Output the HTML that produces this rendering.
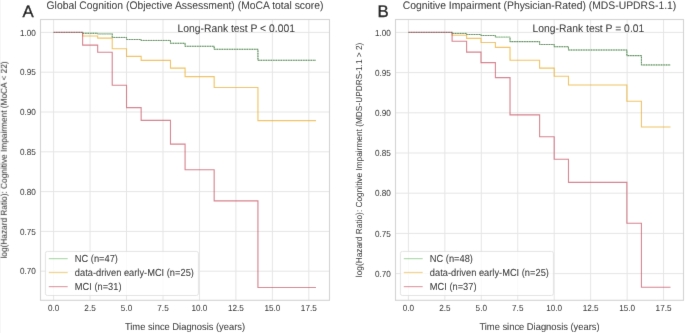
<!DOCTYPE html>
<html><head><meta charset="utf-8"><style>
html,body{margin:0;padding:0;background:#fff;}
body{width:685px;height:333px;overflow:hidden;}
svg{display:block;font-family:"Liberation Sans", sans-serif;text-rendering:geometricPrecision;}
.grid{stroke:#e5e5e5;stroke-width:1.0;}
.spine{fill:none;stroke:#d3d3d3;stroke-width:1.1;}
.tick{font-size:8.2px;fill:#111;}
.title{fill:#111;font-size:10.36px;}
.annot{fill:#111;font-size:10.35px;}
.xlabel{fill:#111;font-size:9.35px;}
.ylabel{fill:#111;font-size:8.3px;}
.leg{fill:#111;font-size:9.3px;}
.letter{font-size:16.8px;fill:#000;stroke:#000;stroke-width:0.3px;}
.legend{fill:#fff;fill-opacity:0.8;stroke:#dcdcdc;stroke-width:0.8;}
</style></head><body>
<svg width="685" height="333" viewBox="0 0 685 333">
<defs><filter id="bl" x="0" y="0" width="1" height="1"><feConvolveMatrix order="3" kernelMatrix="0.00524 0.06192 0.00524 0.06192 0.73137 0.06192 0.00524 0.06192 0.00524" edgeMode="duplicate" preserveAlpha="true"/></filter></defs>
<rect width="685" height="333" fill="#fff"/>
<g filter="url(#bl)">
<rect width="685" height="333" fill="#fff"/>
<line x1="53.60" y1="19.5" x2="53.60" y2="300.3" class="grid"/>
<line x1="90.06" y1="19.5" x2="90.06" y2="300.3" class="grid"/>
<line x1="126.53" y1="19.5" x2="126.53" y2="300.3" class="grid"/>
<line x1="162.99" y1="19.5" x2="162.99" y2="300.3" class="grid"/>
<line x1="199.45" y1="19.5" x2="199.45" y2="300.3" class="grid"/>
<line x1="235.91" y1="19.5" x2="235.91" y2="300.3" class="grid"/>
<line x1="272.38" y1="19.5" x2="272.38" y2="300.3" class="grid"/>
<line x1="308.84" y1="19.5" x2="308.84" y2="300.3" class="grid"/>
<line x1="40.5" y1="32.40" x2="329.5" y2="32.40" class="grid"/>
<line x1="40.5" y1="72.20" x2="329.5" y2="72.20" class="grid"/>
<line x1="40.5" y1="112.00" x2="329.5" y2="112.00" class="grid"/>
<line x1="40.5" y1="151.80" x2="329.5" y2="151.80" class="grid"/>
<line x1="40.5" y1="191.60" x2="329.5" y2="191.60" class="grid"/>
<line x1="40.5" y1="231.40" x2="329.5" y2="231.40" class="grid"/>
<line x1="40.5" y1="271.20" x2="329.5" y2="271.20" class="grid"/>
<rect x="40.5" y="19.5" width="289.00" height="280.80" class="spine"/>
<path d="M82.63,32.40 H82.63 V36.00 H97.67 V38.10 H112.23 V48.80 H126.53 V56.40 H141.15 V60.40 H170.48 V68.10 H185.08 V76.60 H214.18 V87.50 H257.93 V120.60 H316.00" fill="none" stroke="#eaa912" stroke-opacity="0.7" stroke-width="1.1"/>
<path d="M82.63,32.40 H82.63 V33.30 H97.67 V33.80 H112.23 V37.40 H126.53 V39.50 H141.15 V40.40 H170.48 V43.30 H185.08 V46.30 H214.18 V49.30 H257.93 V60.30 H316.00" fill="none" stroke="#9ccb9c" stroke-width="1.05"/>
<path d="M53.60,32.40 H82.63 V45.10 H97.67 V52.20 H112.23 V85.30 H126.53 V107.60 H141.15 V120.40 H170.48 V144.10 H185.08 V169.70 H214.18 V200.90 H257.93 V287.50 H316.00" fill="none" stroke="#c64c5e" stroke-opacity="0.72" stroke-width="1.1"/>
<path d="M53.60,32.40 H82.63 V33.30 H97.67 V33.80 H112.23 V37.40 H126.53 V39.50 H141.15 V40.40 H170.48 V43.30 H185.08 V46.30 H214.18 V49.30 H257.93 V60.30 H316.00" fill="none" stroke="#4a6a4a" stroke-opacity="0.85" stroke-width="1.0" stroke-dasharray="1.3 1.2"/>
<path d="M97.67,33.80 H112.23" fill="none" stroke="#c2e2c2" stroke-width="1.2"/>
<path d="M98.67,33.80 H112.23" fill="none" stroke="#a8c4a8" stroke-width="0.9" stroke-dasharray="1.3 1.2"/>
<text transform="translate(53.60,311.00) scale(1,1.08)" class="tick" text-anchor="middle">0.0</text>
<text transform="translate(90.06,311.00) scale(1,1.08)" class="tick" text-anchor="middle">2.5</text>
<text transform="translate(126.53,311.00) scale(1,1.08)" class="tick" text-anchor="middle">5.0</text>
<text transform="translate(162.99,311.00) scale(1,1.08)" class="tick" text-anchor="middle">7.5</text>
<text transform="translate(199.45,311.00) scale(1,1.08)" class="tick" text-anchor="middle">10.0</text>
<text transform="translate(235.91,311.00) scale(1,1.08)" class="tick" text-anchor="middle">12.5</text>
<text transform="translate(272.38,311.00) scale(1,1.08)" class="tick" text-anchor="middle">15.0</text>
<text transform="translate(308.84,311.00) scale(1,1.08)" class="tick" text-anchor="middle">17.5</text>
<text transform="translate(35.90,35.55) scale(1,1.08)" class="tick" text-anchor="end">1.00</text>
<text transform="translate(35.90,75.35) scale(1,1.08)" class="tick" text-anchor="end">0.95</text>
<text transform="translate(35.90,115.15) scale(1,1.08)" class="tick" text-anchor="end">0.90</text>
<text transform="translate(35.90,154.95) scale(1,1.08)" class="tick" text-anchor="end">0.85</text>
<text transform="translate(35.90,194.75) scale(1,1.08)" class="tick" text-anchor="end">0.80</text>
<text transform="translate(35.90,234.55) scale(1,1.08)" class="tick" text-anchor="end">0.75</text>
<text transform="translate(35.90,274.35) scale(1,1.08)" class="tick" text-anchor="end">0.70</text>
<text transform="translate(185.00,8.80) scale(1,1.06)" class="title" text-anchor="middle">Global Cognition (Objective Assessment) (MoCA total score)</text>
<text x="22.5" y="17.2" class="letter">A</text>
<text transform="translate(185.00,330.20) scale(1,1.06)" class="xlabel" text-anchor="middle">Time since Diagnosis (years)</text>
<text transform="translate(7.30,159.90) rotate(-90) scale(1,1.06)" class="ylabel" text-anchor="middle">log(Hazard Ratio): Cognitive Impairment (MoCA &lt; 22)</text>
<text transform="translate(177.50,32.20) scale(1,1.06)" class="annot">Long-Rank test P &lt; 0.001</text>
<rect x="45.40" y="251.4" width="153.0" height="44.1" rx="2" ry="2" class="legend"/>
<line x1="48.80" y1="258.6" x2="67.70" y2="258.6" stroke="#2ca02c" stroke-opacity="0.38" stroke-width="1.25"/>
<text transform="translate(74.80,262.10) scale(1,1.1)" class="leg">NC (n=47)</text>
<line x1="48.80" y1="272.5" x2="67.70" y2="272.5" stroke="#eaa912" stroke-opacity="0.5" stroke-width="1.25"/>
<text transform="translate(74.80,276.00) scale(1,1.1)" class="leg">data-driven early-MCI (n=25)</text>
<line x1="48.80" y1="286.6" x2="67.70" y2="286.6" stroke="#c64c5e" stroke-opacity="0.55" stroke-width="1.25"/>
<text transform="translate(74.80,290.10) scale(1,1.1)" class="leg">MCI (n=31)</text>
<line x1="408.40" y1="19.5" x2="408.40" y2="300.3" class="grid"/>
<line x1="444.85" y1="19.5" x2="444.85" y2="300.3" class="grid"/>
<line x1="481.30" y1="19.5" x2="481.30" y2="300.3" class="grid"/>
<line x1="517.75" y1="19.5" x2="517.75" y2="300.3" class="grid"/>
<line x1="554.20" y1="19.5" x2="554.20" y2="300.3" class="grid"/>
<line x1="590.65" y1="19.5" x2="590.65" y2="300.3" class="grid"/>
<line x1="627.10" y1="19.5" x2="627.10" y2="300.3" class="grid"/>
<line x1="663.55" y1="19.5" x2="663.55" y2="300.3" class="grid"/>
<line x1="395.5" y1="32.40" x2="683.5" y2="32.40" class="grid"/>
<line x1="395.5" y1="72.60" x2="683.5" y2="72.60" class="grid"/>
<line x1="395.5" y1="112.80" x2="683.5" y2="112.80" class="grid"/>
<line x1="395.5" y1="153.00" x2="683.5" y2="153.00" class="grid"/>
<line x1="395.5" y1="193.20" x2="683.5" y2="193.20" class="grid"/>
<line x1="395.5" y1="233.40" x2="683.5" y2="233.40" class="grid"/>
<line x1="395.5" y1="273.60" x2="683.5" y2="273.60" class="grid"/>
<rect x="395.5" y="19.5" width="288.00" height="280.80" class="spine"/>
<path d="M452.10,32.40 H452.10 V35.20 H466.60 V38.40 H481.00 V42.50 H495.40 V47.40 H510.03 V60.30 H539.60 V68.10 H554.20 V76.30 H568.48 V85.00 H626.86 V101.30 H641.43 V127.00 H670.50" fill="none" stroke="#eaa912" stroke-opacity="0.7" stroke-width="1.1"/>
<path d="M452.10,32.40 H452.10 V33.40 H466.60 V34.50 H481.00 V35.50 H495.40 V37.30 H510.03 V41.60 H539.60 V44.50 H554.20 V46.70 H568.48 V50.00 H626.86 V55.60 H641.43 V64.90 H670.50" fill="none" stroke="#9ccb9c" stroke-width="1.05"/>
<path d="M408.40,32.40 H452.10 V41.30 H466.60 V52.10 H481.00 V62.60 H495.40 V77.60 H510.03 V114.90 H539.60 V136.70 H554.20 V159.30 H568.48 V182.40 H626.86 V223.30 H641.43 V287.20 H670.50" fill="none" stroke="#c64c5e" stroke-opacity="0.72" stroke-width="1.1"/>
<path d="M408.40,32.40 H452.10 V33.40 H466.60 V34.50 H481.00 V35.50 H495.40 V37.30 H510.03 V41.60 H539.60 V44.50 H554.20 V46.70 H568.48 V50.00 H626.86 V55.60 H641.43 V64.90 H670.50" fill="none" stroke="#4a6a4a" stroke-opacity="0.85" stroke-width="1.0" stroke-dasharray="1.3 1.2"/>
<path d="M495.40,37.30 H510.03" fill="none" stroke="#c2e2c2" stroke-width="1.2"/>
<path d="M496.40,37.30 H510.03" fill="none" stroke="#a8c4a8" stroke-width="0.9" stroke-dasharray="1.3 1.2"/>
<text transform="translate(408.40,311.00) scale(1,1.08)" class="tick" text-anchor="middle">0.0</text>
<text transform="translate(444.85,311.00) scale(1,1.08)" class="tick" text-anchor="middle">2.5</text>
<text transform="translate(481.30,311.00) scale(1,1.08)" class="tick" text-anchor="middle">5.0</text>
<text transform="translate(517.75,311.00) scale(1,1.08)" class="tick" text-anchor="middle">7.5</text>
<text transform="translate(554.20,311.00) scale(1,1.08)" class="tick" text-anchor="middle">10.0</text>
<text transform="translate(590.65,311.00) scale(1,1.08)" class="tick" text-anchor="middle">12.5</text>
<text transform="translate(627.10,311.00) scale(1,1.08)" class="tick" text-anchor="middle">15.0</text>
<text transform="translate(663.55,311.00) scale(1,1.08)" class="tick" text-anchor="middle">17.5</text>
<text transform="translate(390.90,35.55) scale(1,1.08)" class="tick" text-anchor="end">1.00</text>
<text transform="translate(390.90,75.75) scale(1,1.08)" class="tick" text-anchor="end">0.95</text>
<text transform="translate(390.90,115.95) scale(1,1.08)" class="tick" text-anchor="end">0.90</text>
<text transform="translate(390.90,156.15) scale(1,1.08)" class="tick" text-anchor="end">0.85</text>
<text transform="translate(390.90,196.35) scale(1,1.08)" class="tick" text-anchor="end">0.80</text>
<text transform="translate(390.90,236.55) scale(1,1.08)" class="tick" text-anchor="end">0.75</text>
<text transform="translate(390.90,276.75) scale(1,1.08)" class="tick" text-anchor="end">0.70</text>
<text transform="translate(539.50,8.80) scale(1,1.06)" class="title" text-anchor="middle">Cognitive Impairment (Physician-Rated) (MDS-UPDRS-1.1)</text>
<text x="377.5" y="17.2" class="letter">B</text>
<text transform="translate(539.50,330.20) scale(1,1.06)" class="xlabel" text-anchor="middle">Time since Diagnosis (years)</text>
<text transform="translate(362.30,159.90) rotate(-90) scale(1,1.06)" class="ylabel" text-anchor="middle">log(Hazard Ratio): Cognitive Impairment (MDS-UPDRS-1.1 &gt; 2)</text>
<text transform="translate(532.60,32.20) scale(1,1.06)" class="annot">Long-Rank test P = 0.01</text>
<rect x="400.40" y="251.4" width="153.0" height="44.1" rx="2" ry="2" class="legend"/>
<line x1="403.80" y1="258.6" x2="422.70" y2="258.6" stroke="#2ca02c" stroke-opacity="0.38" stroke-width="1.25"/>
<text transform="translate(429.80,262.10) scale(1,1.1)" class="leg">NC (n=48)</text>
<line x1="403.80" y1="272.5" x2="422.70" y2="272.5" stroke="#eaa912" stroke-opacity="0.5" stroke-width="1.25"/>
<text transform="translate(429.80,276.00) scale(1,1.1)" class="leg">data-driven early-MCI (n=25)</text>
<line x1="403.80" y1="286.6" x2="422.70" y2="286.6" stroke="#c64c5e" stroke-opacity="0.55" stroke-width="1.25"/>
<text transform="translate(429.80,290.10) scale(1,1.1)" class="leg">MCI (n=37)</text>
</g>
</svg>
</body></html>
